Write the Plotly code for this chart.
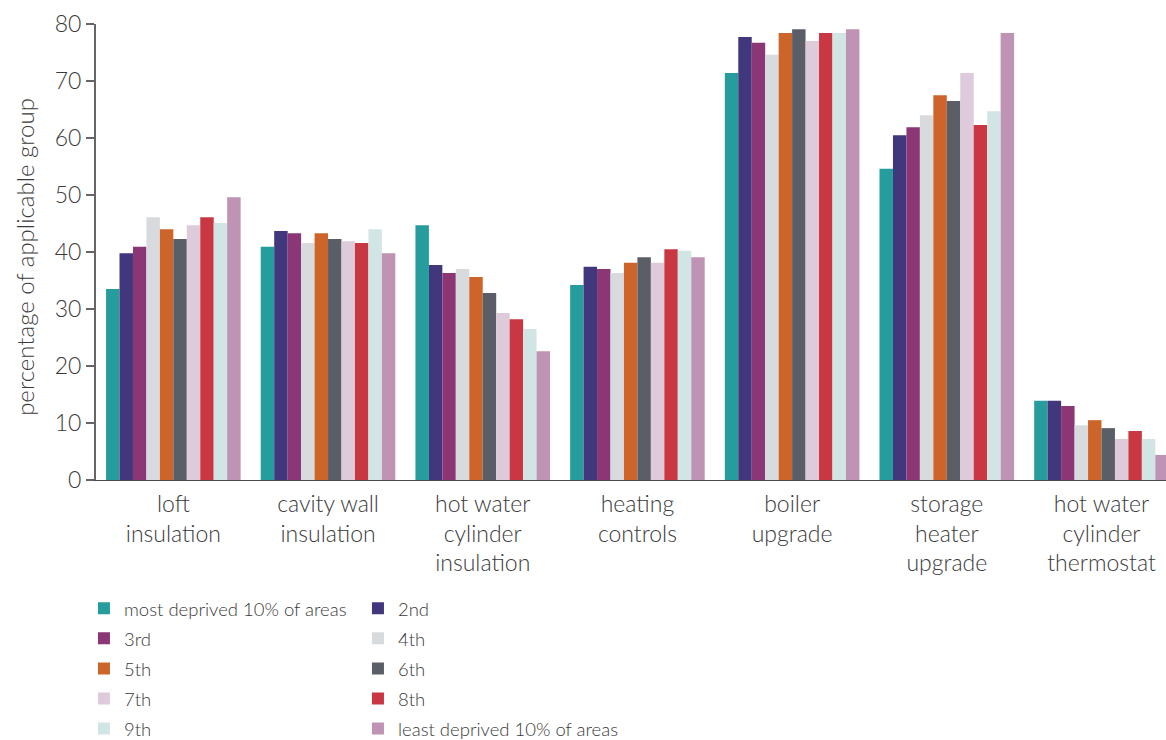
import plotly.graph_objects as go

# Measures (x-axis categories)
categories = [
    "loft<br>insulation",
    "cavity wall<br>insulation",
    "hot water<br>cylinder<br>insulation",
    "heating<br>controls",
    "boiler<br>upgrade",
    "storage<br>heater<br>upgrade",
    "hot water<br>cylinder<br>thermostat",
]

# Deprivation deciles (series names)
deciles = [
    "most deprived 10% of areas", "2nd", "3rd", "4th", "5th",
    "6th", "7th", "8th", "9th", "least deprived 10% of areas",
]

# Percentage of applicable group, one list per decile (in category order)
most_deprived = [33.5, 40.9, 44.7, 34.2, 71.4, 54.6, 13.9]
decile_2 = [39.8, 43.7, 37.7, 37.4, 77.7, 60.5, 13.9]
decile_3 = [40.9, 43.3, 36.3, 37.0, 76.7, 61.9, 13.0]
decile_4 = [46.1, 41.6, 37.0, 36.3, 74.6, 64.0, 9.6]
decile_5 = [44.0, 43.3, 35.6, 38.1, 78.4, 67.5, 10.5]
decile_6 = [42.3, 42.3, 32.8, 39.1, 79.1, 66.5, 9.1]
decile_7 = [44.7, 41.9, 29.3, 38.1, 77.0, 71.4, 7.2]
decile_8 = [46.1, 41.6, 28.2, 40.5, 78.4, 62.3, 8.6]
decile_9 = [45.1, 44.0, 26.5, 40.2, 78.4, 64.7, 7.2]
least_deprived = [49.6, 39.8, 22.6, 39.1, 79.1, 78.4, 4.4]

series_values = [
    most_deprived, decile_2, decile_3, decile_4, decile_5,
    decile_6, decile_7, decile_8, decile_9, least_deprived,
]

colors = [
    "#269c9c", "#41377c", "#8b3775", "#d8dbde", "#cd652b",
    "#5a5e66", "#ddcbdb", "#c93842", "#d2e5e5", "#be93b3",
]

y_ticks = [0, 10, 20, 30, 40, 50, 60, 70, 80]
y_title = "percentage of applicable group"

FONT = "Lato"
TEXT = "#3a3a3a"

fig = go.Figure()
for i, (name, vals, col) in enumerate(zip(deciles, series_values, colors)):
    # legend is laid out in two columns: odd deciles left, even deciles right
    fig.add_trace(go.Bar(
        name=name, x=categories, y=vals,
        marker=dict(color=col, line=dict(width=0)),
        legend="legend" if i % 2 == 0 else "legend2",
        legendgroup=f"g{i}",
    ))

legend_common = dict(
    orientation="v",
    xref="container", yref="container",
    y=0.203, xanchor="left", yanchor="top",
    font=dict(family=FONT, size=18.5, color=TEXT, weight=300),
    traceorder="grouped",
    tracegroupgap=3,
    itemclick=False, itemdoubleclick=False,
    bgcolor="rgba(0,0,0,0)",
)

fig.update_layout(
    width=1166, height=740,
    barmode="group", bargap=0.13, bargroupgap=0,
    plot_bgcolor="white", paper_bgcolor="white",
    margin=dict(l=96, r=0, t=24, b=260, autoexpand=False),
    font=dict(family=FONT, size=22, color=TEXT, weight=300),
    showlegend=True,
    legend=dict(x=0.072, **legend_common),
    legend2=dict(x=0.307, **legend_common),
)

# rotated y-axis title placed left of the tick labels
fig.add_annotation(
    text=y_title, textangle=-90,
    xref="paper", yref="paper", x=-0.067, y=0.49,
    xanchor="center", yanchor="middle", showarrow=False,
    font=dict(family=FONT, size=24, color=TEXT, weight=300),
)

fig.update_xaxes(
    range=[-0.5, 6.417],
    showline=True, linecolor="#4a4a4a", linewidth=1,
    ticks="outside", ticklen=3, tickcolor="rgba(0,0,0,0)",
    tickfont=dict(size=23, color=TEXT), tickangle=0,
    showgrid=False, zeroline=False,
)

fig.update_yaxes(
    range=[0, 80], tickvals=y_ticks,
    showline=True, linecolor="#666666", linewidth=2,
    ticks="outside", ticklen=8, tickwidth=2, tickcolor="#666666",
    tickfont=dict(size=23, color=TEXT),
    showgrid=False, zeroline=False,
)

fig.write_html("out.html")
